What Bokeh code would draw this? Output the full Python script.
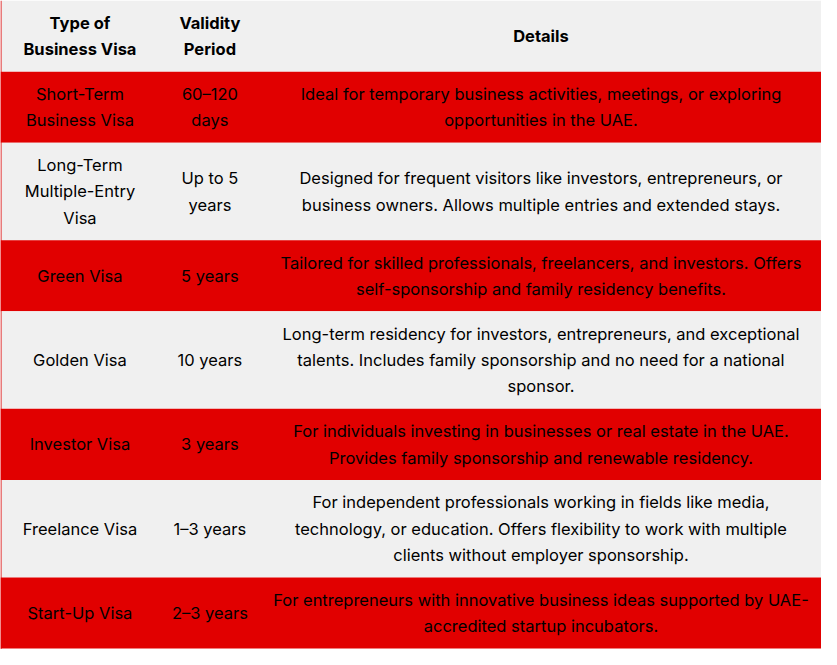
from bokeh.plotting import figure
from bokeh.models import Range1d, ColumnDataSource
from bokeh.core.properties import value
from bokeh.embed import file_html
from bokeh.resources import INLINE

header = ["Type of\nBusiness Visa", "Validity\nPeriod", "Details"]
visa_types = ["Short-Term\nBusiness Visa", "Long-Term\nMultiple-Entry\nVisa", "Green Visa",
              "Golden Visa", "Investor Visa", "Freelance Visa", "Start-Up Visa"]
validity = ["60–120\ndays", "Up to 5\nyears", "5 years", "10 years", "3 years",
            "1–3 years", "2–3 years"]
details = [
    "Ideal for temporary business activities, meetings, or exploring\nopportunities in the UAE.",
    "Designed for frequent visitors like investors, entrepreneurs, or\nbusiness owners. Allows multiple entries and extended stays.",
    "Tailored for skilled professionals, freelancers, and investors. Offers\nself-sponsorship and family residency benefits.",
    "Long-term residency for investors, entrepreneurs, and exceptional\ntalents. Includes family sponsorship and no need for a national\nsponsor.",
    "For individuals investing in businesses or real estate in the UAE.\nProvides family sponsorship and renewable residency.",
    "For independent professionals working in fields like media,\ntechnology, or education. Offers flexibility to work with multiple\nclients without employer sponsorship.",
    "For entrepreneurs with innovative business ideas supported by UAE-\naccredited startup incubators.",
]

RED = "#e10000"
GREY = "#f0f0f0"
W, H = 837, 666
col_edges = [0, 162, 265, 837]
LINE_H = 27
PAD = 19

p = figure(width=821, height=649, output_backend="svg", toolbar_location=None,
           x_range=Range1d(0, W), y_range=Range1d(H, 0), min_border=0)
p.axis.visible = False
p.grid.visible = False
p.outline_line_color = None
p.background_fill_color = "white"
p.border_fill_color = "white"

rows = [header] + [[a, b, c] for a, b, c in zip(visa_types, validity, details)]
tops, bottoms, fills = [], [], []
y = 0
tx, ty, tt, tb = [], [], [], []
for i, row in enumerate(rows):
    nlines = max(len(c.split("\n")) for c in row)
    h = PAD + LINE_H * nlines
    tops.append(y)
    bottoms.append(y + h)
    fills.append(GREY if i % 2 == 0 else RED)
    cy = y + h / 2
    for j, cell in enumerate(row):
        lines = cell.split("\n")
        cx = (col_edges[j] + col_edges[j + 1]) / 2
        for k, ln in enumerate(lines):
            tx.append(cx)
            ty.append(cy + (k - (len(lines) - 1) / 2) * LINE_H)
            tt.append(ln)
            tb.append(i == 0)
    y += h

p.quad(left=0, right=W, top=tops, bottom=bottoms, fill_color=fills, line_color=None)
p.segment(x0=[0.5], y0=[0], x1=[0.5], y1=[H], line_color=RED, line_width=1)

norm = ColumnDataSource(dict(x=[a for a, b in zip(tx, tb) if not b],
                             y=[a for a, b in zip(ty, tb) if not b],
                             t=[a for a, b in zip(tt, tb) if not b]))
bold = ColumnDataSource(dict(x=[a for a, b in zip(tx, tb) if b],
                             y=[a for a, b in zip(ty, tb) if b],
                             t=[a for a, b in zip(tt, tb) if b]))
p.text(x="x", y="y", text="t", source=norm, text_align="center", text_baseline="middle",
       text_font=value("Inter"), text_font_size="16.5px", text_color="#000000")
p.text(x="x", y="y", text="t", source=bold, text_align="center", text_baseline="middle",
       text_font=value("Inter"), text_font_size="16.5px", text_font_style="bold",
       text_color="#000000")

open("out.html", "w").write(file_html(p, INLINE))
